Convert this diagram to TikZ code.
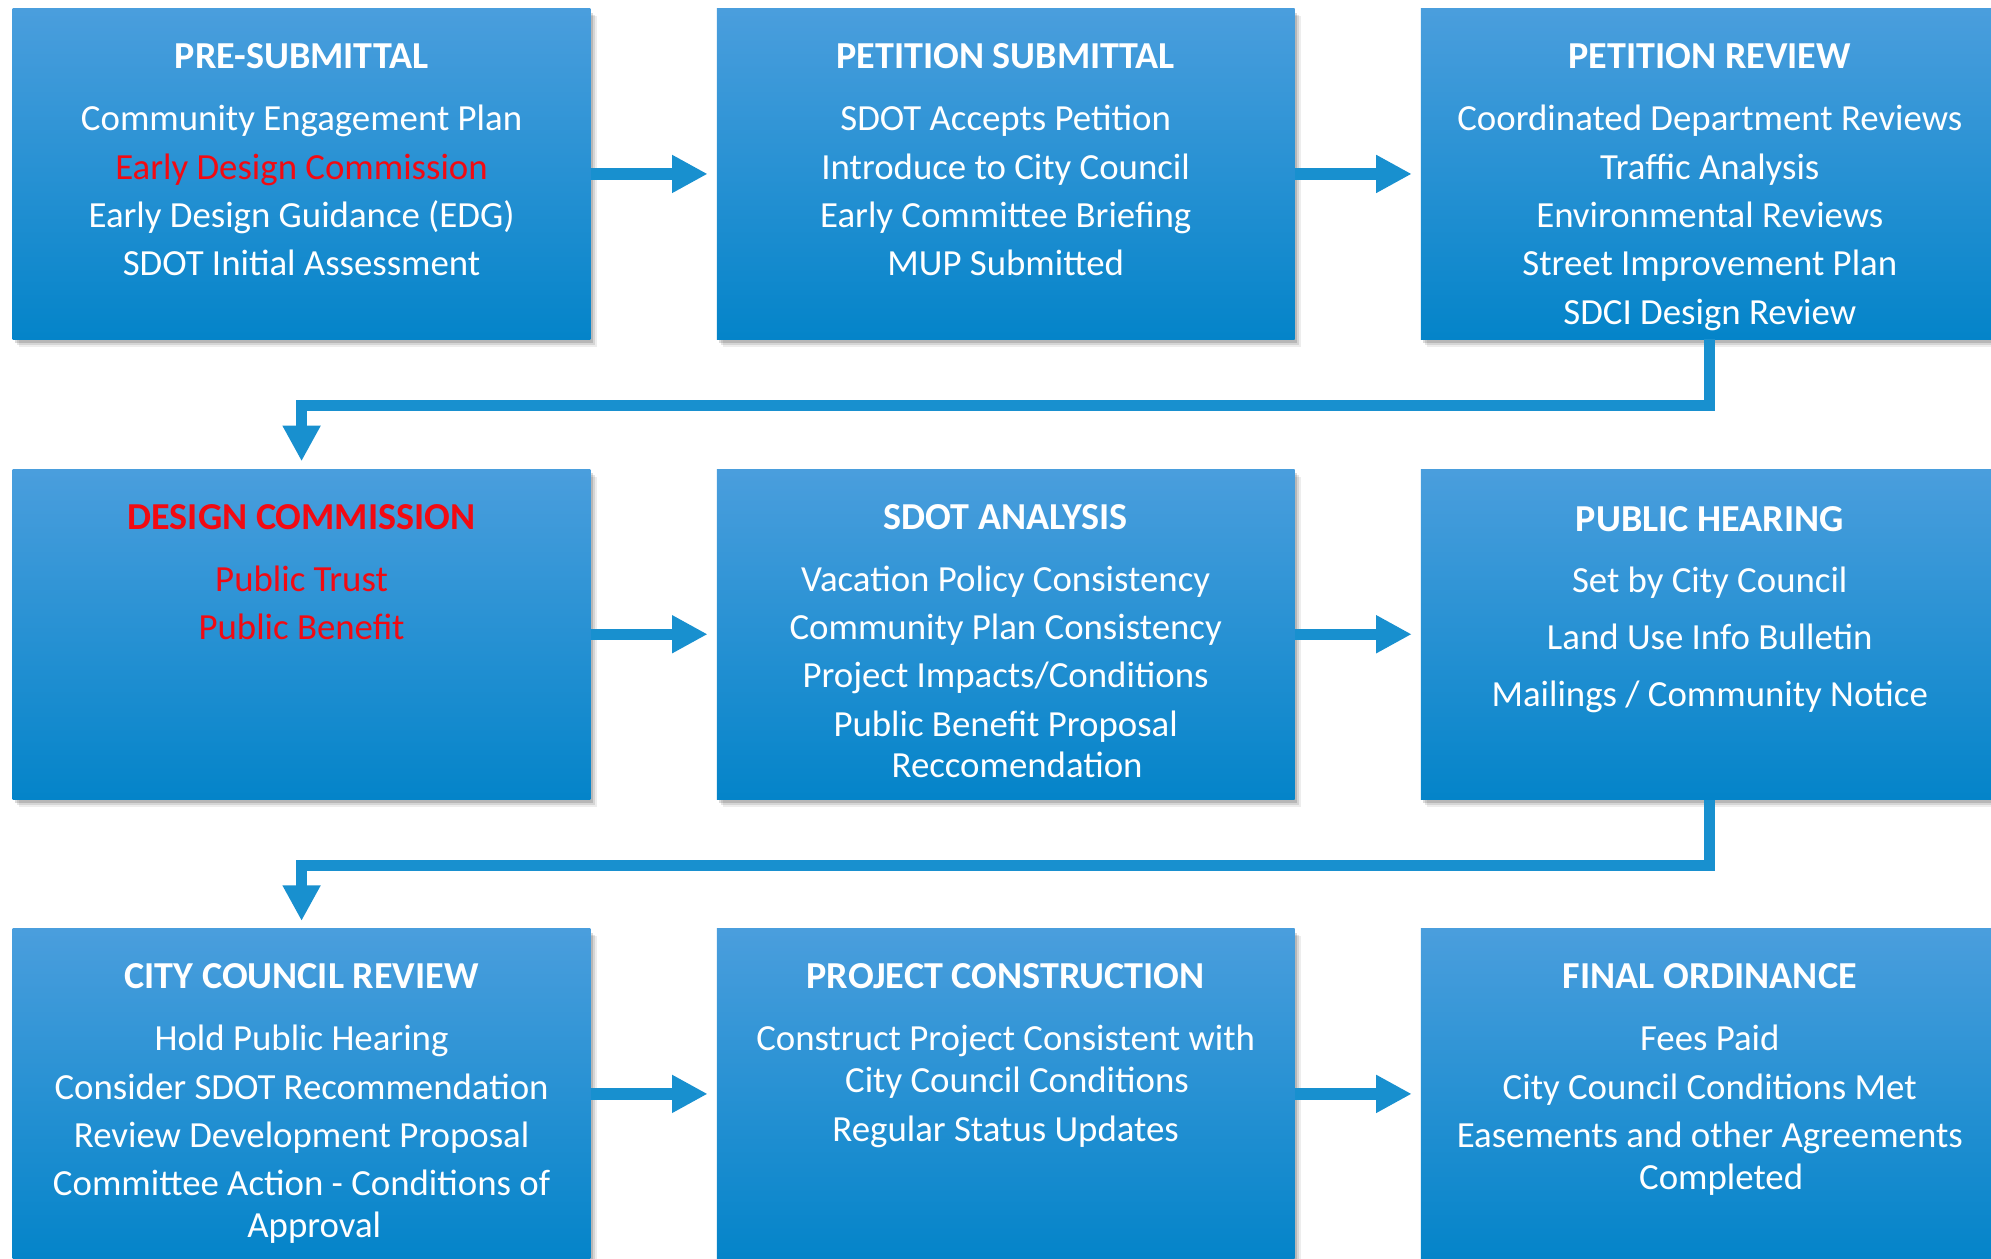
\documentclass[tikz,border=0pt]{standalone}
\usepackage{fontspec}
\setmainfont{Carlito}
\usetikzlibrary{positioning,shadows,arrows.meta}

\definecolor{boxtop}{RGB}{74,158,221}
\definecolor{boxmid}{RGB}{16,147,218}
\definecolor{boxbot}{RGB}{4,132,201}
\definecolor{flowblue}{RGB}{24,144,207}
\definecolor{alertred}{RGB}{242,10,18}

\newcommand{\steptitle}[1]{{\bfseries\fontsize{30}{38}\selectfont #1}}

\tikzset{
  stepbox/.style={rectangle, minimum width=455pt, minimum height=260pt, inner sep=0pt,
    top color=boxtop, middle color=boxmid, bottom color=boxbot,
    drop shadow={shadow xshift=5pt, shadow yshift=-6pt, fill=black, opacity=0.07},
    drop shadow={shadow xshift=3.5pt, shadow yshift=-4.5pt, fill=black, opacity=0.1},
    drop shadow={shadow xshift=2pt, shadow yshift=-3pt, fill=black, opacity=0.14}},
  steptext/.style={align=center, text=white, inner sep=0pt, font=\fontsize{29}{38}\selectfont},
  flow/.style={draw=flowblue, line width=9pt, -{Triangle[width=28pt, length=28pt]}}
}

\begin{document}
\begin{tikzpicture}[x=1pt, y=1pt, line join=miter]

                \useasboundingbox (0,0) rectangle (1568,991);

                \node[stepbox] (presub) at (237.5,854) {};
                \node[stepbox] (petsub) at (792,854) {};
                \node[stepbox] (petrev) at (1346.5,854) {};

                \node[stepbox] (descom) at (237.5,491.5) {};
                \node[stepbox] (sdotan) at (792,491.5) {};
                \node[stepbox] (hearing) at (1346.5,491.5) {};

                \node[stepbox] (council) at (237.5,129.5) {};
                \node[stepbox] (constr) at (792,129.5) {};
                \node[stepbox] (final) at (1346.5,129.5) {};

                \node[steptext, below=27.5pt of presub.north] (presubtxt) {\steptitle{PRE-SUBMITTAL}\\[11pt]
                    Community Engagement Plan\\ \textcolor{alertred}{Early Design Commission}\\
                    Early Design Guidance (EDG)\\ SDOT Initial Assessment};
                \node[steptext, below=27.5pt of petsub.north] (petsubtxt) {\steptitle{PETITION SUBMITTAL}\\[11pt]
                    SDOT Accepts Petition\\ Introduce to City Council\\
                    Early Committee Briefing\\ MUP Submitted};
                \node[steptext, below=27.5pt of petrev.north] (petrevtxt) {\steptitle{PETITION REVIEW}\\[11pt]
                    Coordinated Department Reviews\\ Traffic Analysis\\ Environmental Reviews\\
                    Street Improvement Plan\\ SDCI Design Review};

                \node[steptext, text=alertred, below=27.5pt of descom.north] (descomtxt) {\steptitle{DESIGN COMMISSION}\\[11pt]
                    Public Trust\\ Public Benefit};
                \node[steptext, below=27.5pt of sdotan.north] (sdotantxt) {\steptitle{SDOT ANALYSIS}\\[11pt]
                    Vacation Policy Consistency\\ Community Plan Consistency\\ Project Impacts/Conditions\\
                    Public Benefit Proposal\\[-5pt] \hspace*{18pt}Reccomendation};
                \node[steptext, below=29.5pt of hearing.north] (hearingtxt) {\steptitle{PUBLIC HEARING}\\[10pt]
                    Set by City Council\\[7pt] Land Use Info Bulletin\\[7pt] Mailings / Community Notice};

                \node[steptext, below=27.5pt of council.north] (counciltxt) {\steptitle{CITY COUNCIL REVIEW}\\[11pt]
                    Hold Public Hearing\\ Consider SDOT Recommendation\\ Review Development Proposal\\
                    Committee Action - Conditions of\\[-5pt] \hspace*{20pt}Approval};
                \node[steptext, below=27.5pt of constr.north] (constrtxt) {\steptitle{PROJECT CONSTRUCTION}\\[11pt]
                    Construct Project Consistent with\\[-5pt] \hspace*{18pt}City Council Conditions\\
                    Regular Status Updates};
                \node[steptext, below=27.5pt of final.north] (finaltxt) {\steptitle{FINAL ORDINANCE}\\[11pt]
                    Fees Paid\\ City Council Conditions Met\\ Easements and other Agreements\\[-5pt]
                    \hspace*{18pt}Completed};

                \draw[flow] (presub.east) -- ([xshift=-7pt]petsub.west);
                \draw[flow] (petsub.east) -- ([xshift=-7pt]petrev.west);
                \draw[flow] (descom.east) -- ([xshift=-7pt]sdotan.west);
                \draw[flow] (sdotan.east) -- ([xshift=-7pt]hearing.west);
                \draw[flow] (council.east) -- ([xshift=-7pt]constr.west);
                \draw[flow] (constr.east) -- ([xshift=-7pt]final.west);

                \draw[flow] (petrev.south) -- ++(0,-52) -| ([yshift=6pt]descom.north);
                \draw[flow] (hearing.south) -- ++(0,-52) -| ([yshift=6pt]council.north);

\end{tikzpicture}
\end{document}
